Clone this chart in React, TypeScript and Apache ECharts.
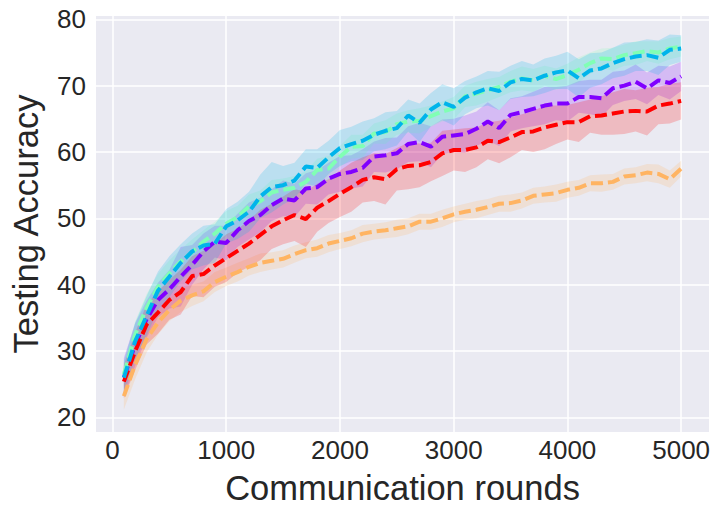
import React, { useEffect, useRef } from "react";
import * as echarts from "echarts";

const rounds = [
  100, 200, 300, 400, 500, 600, 700, 800, 900, 1000,
  1100, 1200, 1300, 1400, 1500, 1600, 1700, 1800, 1900, 2000,
  2100, 2200, 2300, 2400, 2500, 2600, 2700, 2800, 2900, 3000,
  3100, 3200, 3300, 3400, 3500, 3600, 3700, 3800, 3900, 4000,
  4100, 4200, 4300, 4400, 4500, 4600, 4700, 4800, 4900, 5000,
];

const purpleMean = [
  26.0, 31.0, 34.8, 37.7, 39.3, 41.2, 43.0, 45.0, 46.5, 46.3,
  48.2, 49.6, 50.5, 52.0, 53.0, 52.7, 54.5, 54.7, 56.0, 56.7,
  57.0, 57.6, 59.3, 59.5, 59.8, 61.2, 61.5, 60.8, 62.3, 62.5,
  62.7, 63.5, 64.6, 63.6, 65.6, 66.0, 66.5, 67.0, 67.3, 67.3,
  68.3, 68.3, 68.1, 69.6, 70.0, 70.6, 69.6, 70.8, 70.4, 71.4,
];
const purpleSpread = [
  3.0, 3.2, 2.8, 2.6, 2.9, 4.5, 3.0, 2.7, 2.4, 2.6,
  2.5, 2.8, 2.6, 2.4, 2.7, 2.5, 2.3, 2.6, 2.4, 2.7,
  2.5, 2.8, 2.3, 2.6, 2.4, 2.7, 2.9, 3.1, 2.6, 2.5,
  2.8, 2.6, 2.9, 2.7, 2.5, 2.4, 2.6, 2.8, 2.5, 2.7,
  2.4, 2.6, 2.8, 2.5, 2.3, 2.6, 2.4, 2.2, 2.5, 2.2,
];

const cyanMean = [
  26.0, 31.5, 35.3, 39.1, 41.2, 43.3, 45.0, 45.9, 46.2, 48.8,
  49.7, 51.0, 53.3, 54.7, 55.0, 55.7, 57.8, 57.6, 59.2, 60.6,
  61.2, 61.7, 62.6, 63.2, 63.6, 65.5, 64.4, 66.4, 67.5, 66.8,
  68.2, 69.0, 69.6, 69.2, 70.5, 71.0, 70.8, 71.5, 72.0, 72.3,
  71.1, 72.3, 72.6, 73.4, 74.0, 74.4, 74.6, 74.2, 75.4, 75.6,
];
const cyanSpread = [
  2.5, 2.8, 3.0, 2.9, 3.1, 2.8, 2.7, 3.0, 2.9, 2.6,
  2.8, 3.0, 3.3, 3.8, 2.9, 2.7, 2.6, 2.8, 2.5, 2.7,
  2.6, 2.9, 2.5, 2.8, 2.6, 2.4, 2.9, 2.5, 2.7, 2.8,
  2.5, 2.4, 2.6, 2.9, 2.5, 2.7, 2.4, 2.6, 2.5, 2.8,
  2.9, 2.6, 2.4, 2.3, 2.5, 2.2, 2.4, 2.6, 2.3, 2.0,
];

const greenMean = [
  26.5, 32.5, 36.5, 39.7, 41.7, 43.5, 44.9, 46.5, 47.7, 49.2,
  50.2, 51.8, 52.6, 53.9, 54.3, 54.6, 55.5, 57.3, 57.5, 59.3,
  60.8, 60.9, 62.8, 63.0, 64.2, 64.6, 64.7, 65.4, 66.1, 66.6,
  68.4, 68.8, 69.3, 69.8, 70.6, 71.1, 70.8, 71.5, 71.0, 71.6,
  72.4, 73.4, 74.1, 74.0, 74.6, 74.9, 75.2, 75.0, 75.6, 75.9,
];
const greenSpread = [
  1.8, 2.0, 2.1, 1.9, 2.0, 1.8, 1.9, 1.7, 1.8, 1.9,
  1.7, 1.8, 1.6, 1.9, 1.7, 1.8, 1.6, 1.7, 1.9, 1.6,
  1.8, 1.7, 1.5, 1.8, 1.6, 1.7, 1.9, 1.6, 1.5, 1.7,
  1.6, 1.8, 1.7, 1.5, 1.6, 1.8, 1.7, 1.5, 1.6, 1.7,
  1.9, 1.6, 1.5, 1.7, 1.6, 1.8, 1.5, 1.7, 1.6, 1.5,
];

const orangeMean = [
  23.2, 28.0, 31.8, 34.3, 36.2, 37.6, 38.4, 39.0, 40.4, 41.2,
  41.9, 42.7, 43.3, 43.6, 43.9, 44.6, 45.2, 45.5, 46.2, 46.6,
  47.0, 47.7, 48.0, 48.2, 48.5, 48.8, 49.5, 49.5, 50.0, 50.6,
  51.0, 51.3, 51.7, 52.2, 52.3, 52.7, 53.4, 53.6, 53.8, 54.3,
  54.6, 55.3, 55.3, 55.5, 56.3, 56.5, 56.9, 56.7, 55.9, 57.5,
];
const orangeSpread = [
  2.0, 2.2, 2.0, 1.8, 1.7, 1.7, 1.6, 1.5, 1.5, 1.4,
  1.4, 1.3, 1.4, 1.3, 1.3, 1.3, 1.2, 1.3, 1.3, 1.2,
  1.2, 1.3, 1.2, 1.2, 1.3, 1.2, 1.2, 1.2, 1.3, 1.2,
  1.2, 1.3, 1.2, 1.2, 1.3, 1.2, 1.2, 1.2, 1.3, 1.2,
  1.2, 1.2, 1.3, 1.2, 1.2, 1.2, 1.3, 1.4, 1.3, 1.2,
];

const redMean = [
  25.4, 30.0, 34.0, 35.8, 37.7, 38.9, 41.3, 41.6, 42.9, 44.0,
  45.1, 46.2, 47.5, 48.8, 49.7, 50.5, 49.9, 51.6, 52.6, 53.7,
  54.7, 55.8, 56.2, 55.9, 57.4, 57.9, 58.0, 58.5, 59.8, 60.3,
  60.3, 60.7, 61.7, 61.5, 62.2, 63.0, 63.1, 63.7, 64.1, 64.5,
  64.5, 65.4, 65.5, 65.8, 66.1, 66.2, 66.1, 67.0, 67.3, 67.7,
];
const redSpread = [
  2.5, 2.8, 3.0, 3.2, 3.0, 3.4, 3.0, 3.5, 3.2, 3.6,
  3.3, 3.5, 3.8, 3.4, 3.6, 3.9, 4.2, 3.6, 3.3, 3.5,
  3.7, 3.4, 3.6, 3.8, 3.2, 3.5, 3.3, 2.9, 3.4, 3.1,
  3.3, 3.0, 2.8, 3.2, 3.0, 2.7, 3.1, 3.3, 2.9, 2.6,
  3.0, 2.5, 2.9, 3.2, 3.4, 3.1, 3.6, 2.8, 3.0, 2.8,
];

const seriesDefs = [
  { name: "purple", color: "#8000ff", mean: purpleMean, spread: purpleSpread, z: 11 },
  { name: "green", color: "#80ffb4", mean: greenMean, spread: greenSpread, z: 12 },
  { name: "orange", color: "#ffb462", mean: orangeMean, spread: orangeSpread, z: 13 },
  { name: "red", color: "#ff0000", mean: redMean, spread: redSpread, z: 14 },
  { name: "cyan", color: "#00b4eb", mean: cyanMean, spread: cyanSpread, z: 15 },
];

const textColor = "#262626";
const font = "'Liberation Sans', Arial, sans-serif";

function hexToRgba(hex: string, a: number) {
  const r = parseInt(hex.slice(1, 3), 16);
  const g = parseInt(hex.slice(3, 5), 16);
  const b = parseInt(hex.slice(5, 7), 16);
  return `rgba(${r},${g},${b},${a})`;
}

export default function App() {
  const ref = useRef<HTMLDivElement>(null);

  useEffect(() => {
    if (!ref.current) return;
    const chart = echarts.init(ref.current, undefined, { renderer: "svg" });

    const bandSeries = seriesDefs.map((s, si) => ({
      type: "custom",
      name: s.name + "-band",
      z: 2 + si,
      silent: true,
      clip: true,
      data: [[rounds[0], s.mean[0]]],
      renderItem: (params: any, api: any) => {
        if (params.dataIndex !== 0) return null;
        const upper = rounds.map((x, i) => api.coord([x, s.mean[i] + s.spread[i]]));
        const lower = rounds
          .map((x, i) => api.coord([x, s.mean[i] - s.spread[i]]))
          .reverse();
        return {
          type: "polygon",
          shape: { points: upper.concat(lower) },
          style: { fill: hexToRgba(s.color, 0.2), stroke: "none" },
        };
      },
    }));

    const lineSeries = seriesDefs.map((s) => ({
      type: "line",
      name: s.name,
      z: s.z,
      showSymbol: false,
      symbol: "none",
      silent: true,
      data: rounds.map((x, i) => [x, s.mean[i]]),
      lineStyle: { color: s.color, width: 4, type: [12, 5] },
    }));

    chart.setOption({
      animation: false,
      grid: {
        left: 89,
        right: 13,
        top: 16,
        bottom: 84,
        show: true,
        backgroundColor: "#EAEAF2",
        borderWidth: 0,
        containLabel: false,
      },
      xAxis: {
        type: "value",
        min: -145,
        max: 5245,
        splitNumber: 5,
        name: "Communication rounds",
        nameLocation: "middle",
        nameGap: 38,
        nameTextStyle: { fontSize: 34.5, color: textColor, fontFamily: font },
        axisLine: { show: false },
        axisTick: { show: false },
        axisLabel: {
          show: true,
          showMinLabel: false,
          showMaxLabel: false,
          fontSize: 26,
          color: textColor,
          fontFamily: font,
          margin: 5,
          formatter: (v: number) => String(v),
        },
        splitLine: {
          show: true,
          showMinLine: false,
          showMaxLine: false,
          lineStyle: { color: "#ffffff", width: 1.5 },
        },
      },
      yAxis: {
        type: "value",
        min: 17.8,
        max: 80.5,
        splitNumber: 6,
        name: "Testing Accuracy",
        nameLocation: "middle",
        nameGap: 53,
        nameTextStyle: { fontSize: 34.5, color: textColor, fontFamily: font },
        axisLine: { show: false },
        axisTick: { show: false },
        axisLabel: {
          show: true,
          showMinLabel: false,
          showMaxLabel: false,
          fontSize: 26,
          color: textColor,
          fontFamily: font,
          margin: 10,
        },
        splitLine: {
          show: true,
          showMinLine: false,
          showMaxLine: false,
          lineStyle: { color: "#ffffff", width: 1.5 },
        },
      },
      series: [...bandSeries, ...lineSeries],
    });

    return () => chart.dispose();
  }, []);

  return (
    <div
      ref={ref}
      style={{ position: "fixed", left: 0, top: 0, width: 722, height: 516, background: "#ffffff" }}
    />
  );
}
